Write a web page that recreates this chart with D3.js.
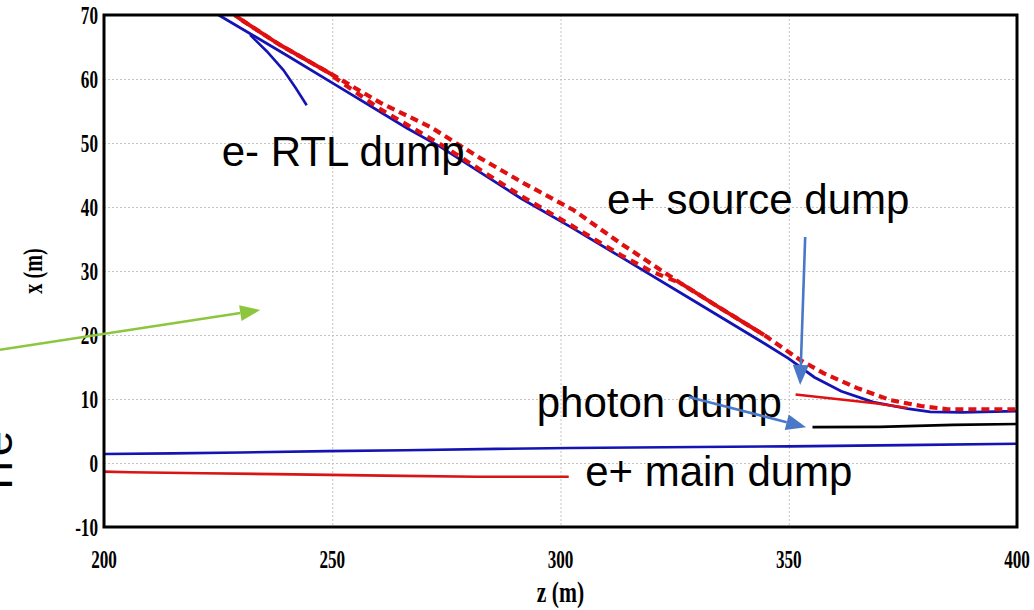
<!DOCTYPE html>
<html>
<head>
<meta charset="utf-8">
<script src="https://cdn.jsdelivr.net/npm/d3@7"></script>
<style>
  body { margin: 0; background: #fff; }
  svg { display: block; }
</style>
</head>
<body>
<div id="chart"></div>
<script>
// Plot constants
const WIDTH = 1034;
const HEIGHT = 610;
const margin = { top: 15, right: 17, bottom: 83, left: 104 };

// Axis ticks
const xTicks = [200, 250, 300, 350, 400];
const yTicks = [-10, 0, 10, 20, 30, 40, 50, 60, 70];

// Beam lines, [z, x] in metres
const blueMain = [[225.1, 70], [240, 63.7], [250, 59.4], [266.4, 52.3], [273.7, 49.4], [291.2, 41.4],
  [302.2, 36.9], [313.2, 32.2], [330, 25.0], [344.6, 18.7], [350, 16.3], [355.6, 13.4], [361.5, 11.2],
  [368.5, 9.5], [376, 8.5], [381, 8.0], [388, 7.9], [400, 8.1]];
const blueBranch = [[232, 66.9], [235.7, 64.3], [239.3, 61.4], [242, 58.6], [244.4, 55.9]];
const redUpper = [[230.2, 69.2], [238.6, 65.3], [250.2, 60.6], [260.5, 56.3], [271.5, 52.5], [282.5, 47.6],
  [292, 43.7], [302.9, 39.5], [313.2, 34.3], [326.3, 28.1], [335, 24.2], [344.6, 20.0], [352.5, 16.1],
  [357.7, 14.0], [365, 11.7], [372.4, 9.8], [379, 8.9], [384.8, 8.4], [400, 8.4]];
const redLower = [[250.2, 60.4], [260.5, 55.3], [273.7, 49.8], [291.2, 41.8], [302.2, 37.2],
  [313.2, 32.5], [320, 29.9], [326.3, 28.1]];
const redSolidA = [[228.6, 70], [230.2, 69.2], [238.6, 65.3], [250.2, 60.6]];
const redSolidB = [[326.3, 28.1], [335, 24.2], [344.6, 20.0]];
const redSourceDump = [[351.5, 10.7], [369.4, 9.3], [376, 8.6]];
const photonLine = [[355.2, 5.6], [370, 5.65], [386, 5.95], [400, 6.1]];
const blueBottom = [[200, 1.4], [215, 1.5], [230, 1.65], [249, 1.85], [266, 2.0], [286, 2.2],
  [302, 2.35], [330, 2.5], [350, 2.6], [375, 2.8], [400, 3.0]];
const redBottom = [[200, -1.35], [205.7, -1.45], [221.8, -1.6], [241.5, -1.77], [261.2, -1.98],
  [281.7, -2.14], [301.8, -2.14]];

// Annotations (data coords, text baseline start)
const labels = [
  { text: "e- RTL dump", z: 225.8, x: 46.4 },
  { text: "e+ source dump", z: 310.2, x: 38.9 },
  { text: "photon dump", z: 294.8, x: 7.2 },
  { text: "e+ main dump", z: 305.4, x: -3.6 }
];
const arrows = [
  { from: [177.2, 17.7], to: [234.2, 23.9], color: "#8cc63f" },
  { from: [353.6, 35.3], to: [352.5, 12.2], color: "#4a78c8" },
  { from: [328.1, 10.3], to: [353.8, 5.6], color: "#4a78c8" }
];

const svg = d3.select("#chart").append("svg")
  .attr("width", WIDTH)
  .attr("height", HEIGHT);

const x = d3.scaleLinear().domain([200, 400]).range([margin.left, WIDTH - margin.right]);
const y = d3.scaleLinear().domain([-10, 70]).range([HEIGHT - margin.bottom, margin.top]);

svg.append("defs").append("clipPath").attr("id", "plot")
  .append("rect")
  .attr("x", x(200)).attr("y", y(70))
  .attr("width", x(400) - x(200)).attr("height", y(-10) - y(70));

// Grid
const grid = svg.append("g").attr("stroke", "#c4c4c4").attr("stroke-width", 1).attr("stroke-dasharray", "2,2");
grid.selectAll(".h").data(yTicks.filter(d => d > -10 && d < 70)).join("line")
  .attr("x1", x(200)).attr("x2", x(400))
  .attr("y1", d => y(d) + 0.5).attr("y2", d => y(d) + 0.5);
grid.selectAll(".v").data(xTicks.filter(d => d > 200 && d < 400)).join("line")
  .attr("y1", y(70)).attr("y2", y(-10))
  .attr("x1", d => x(d) + 0.5).attr("x2", d => x(d) + 0.5);

// Tick labels
const tickFont = "'Liberation Serif', 'Times New Roman', serif";
svg.append("g").selectAll("text").data(yTicks).join("text")
  .attr("transform", d => `translate(98,${y(d) + 9}) scale(0.66,1)`)
  .attr("text-anchor", "end")
  .attr("font-family", tickFont).attr("font-weight", "bold").attr("font-size", 26)
  .text(d => d);
svg.append("g").selectAll("text").data(xTicks).join("text")
  .attr("transform", d => `translate(${x(d)},568) scale(0.66,1)`)
  .attr("text-anchor", "middle")
  .attr("font-family", tickFont).attr("font-weight", "bold").attr("font-size", 26)
  .text(d => d);

svg.append("text")
  .attr("transform", `translate(${(x(200) + x(400)) / 2},602) scale(0.72,1)`)
  .attr("text-anchor", "middle")
  .attr("font-family", tickFont).attr("font-weight", "bold").attr("font-size", 30)
  .text("z (m)");
svg.append("text")
  .attr("transform", `translate(42,${y(30)}) rotate(-90) scale(0.75,1)`)
  .attr("text-anchor", "middle")
  .attr("font-family", tickFont).attr("font-weight", "bold").attr("font-size", 27)
  .text("x (m)");

// Lines
const line = d3.line().x(d => x(d[0])).y(d => y(d[1]));
const plot = svg.append("g").attr("clip-path", "url(#plot)").attr("fill", "none");

plot.append("path").datum(blueBottom).attr("d", line).attr("stroke", "#1414b4").attr("stroke-width", 2.6);
plot.append("path").datum(redBottom).attr("d", line).attr("stroke", "#d81414").attr("stroke-width", 2.6);
plot.append("path").datum(photonLine).attr("d", line).attr("stroke", "#000").attr("stroke-width", 2.6);
plot.append("path").datum(blueMain).attr("d", line).attr("stroke", "#1414b4").attr("stroke-width", 2.8);
plot.append("path").datum(blueBranch).attr("d", line).attr("stroke", "#1414b4").attr("stroke-width", 2.6);
plot.append("path").datum(redLower).attr("d", line).attr("stroke", "#e01010").attr("stroke-width", 4.2)
  .attr("stroke-dasharray", "8,6");
plot.append("path").datum(redUpper).attr("d", line).attr("stroke", "#e01010").attr("stroke-width", 4.2)
  .attr("stroke-dasharray", "8,5");
[redSolidA, redSolidB].forEach(seg => {
  plot.append("path").datum(seg).attr("d", line).attr("stroke", "#e01010").attr("stroke-width", 4);
});
plot.append("path").datum(redSourceDump).attr("d", line).attr("stroke", "#e01010").attr("stroke-width", 2.4);

// Frame
svg.append("rect")
  .attr("x", x(200)).attr("y", y(70))
  .attr("width", x(400) - x(200)).attr("height", y(-10) - y(70))
  .attr("fill", "none").attr("stroke", "#000").attr("stroke-width", 3);

// Labels
svg.append("g").selectAll("text").data(labels).join("text")
  .attr("x", d => x(d.z)).attr("y", d => y(d.x))
  .attr("font-family", "'Liberation Sans', Arial, sans-serif").attr("font-size", 42)
  .attr("fill", "#000")
  .text(d => d.text);

// cut-off side label
svg.append("text")
  .attr("transform", "translate(12,498) rotate(-90)")
  .attr("font-family", "'Liberation Sans', Arial, sans-serif").attr("font-size", 46)
  .text("Tre");

// Arrows
arrows.forEach(a => {
  const x1 = x(a.from[0]), y1 = y(a.from[1]), x2 = x(a.to[0]), y2 = y(a.to[1]);
  const ang = Math.atan2(y2 - y1, x2 - x1);
  const len = 20, half = 8;
  const bx = x2 - len * Math.cos(ang), by = y2 - len * Math.sin(ang);
  svg.append("line")
    .attr("x1", x1).attr("y1", y1).attr("x2", bx).attr("y2", by)
    .attr("stroke", a.color).attr("stroke-width", 2.6);
  svg.append("path")
    .attr("d", `M${x2},${y2}L${bx - half * Math.sin(ang)},${by + half * Math.cos(ang)}L${bx + half * Math.sin(ang)},${by - half * Math.cos(ang)}Z`)
    .attr("fill", a.color);
});
</script>
</body>
</html>
